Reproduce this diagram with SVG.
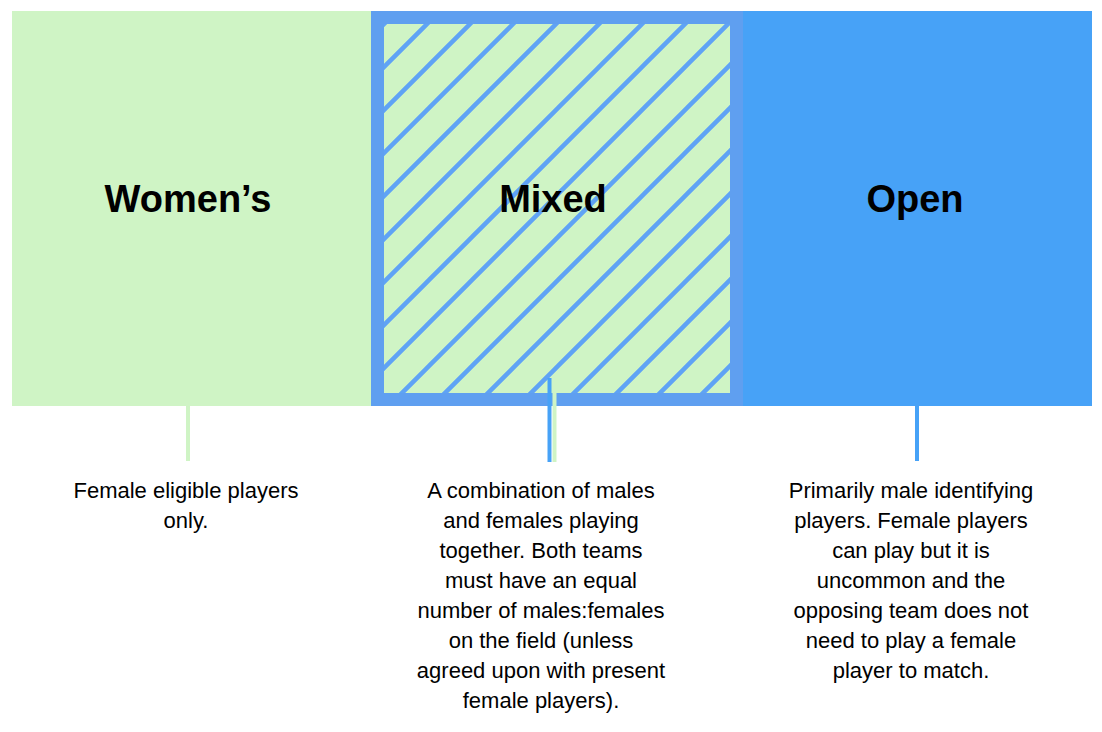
<svg xmlns="http://www.w3.org/2000/svg" width="1102" height="732" viewBox="0 0 1102 732">
<style>
.t{font-family:"Liberation Sans",Arial,sans-serif;font-weight:bold;font-size:38px;text-anchor:middle;fill:#000}
.d{font-family:"Liberation Sans",Arial,sans-serif;font-size:22px;text-anchor:middle;fill:#000}
</style>
<defs>
<pattern id="h" patternUnits="userSpaceOnUse" width="43" height="43" patternTransform="translate(384 24)">
<path d="M-5 48 L48 -5 M-48 48 L5 -5 M38 48 L91 -5" stroke="#5fa3f5" stroke-width="4.5"/>
</pattern>
</defs>
<rect width="1102" height="732" fill="#fff"/>
<g id="womens">
<rect x="12" y="11" width="360" height="395" fill="#cff4c5"/>
<text class="t" x="188" y="212">Women’s</text>
<text class="d" x="186" y="498">Female eligible players</text>
<text class="d" x="186" y="528">only.</text>
</g>
<g id="open">
<rect x="743" y="11" width="349" height="395" fill="#47a2f7"/>
<text class="t" x="915" y="212">Open</text>
<text class="d" x="911" y="498">Primarily male identifying</text>
<text class="d" x="911" y="528">players. Female players</text>
<text class="d" x="911" y="558">can play but it is</text>
<text class="d" x="911" y="588">uncommon and the</text>
<text class="d" x="911" y="618">opposing team does not</text>
<text class="d" x="911" y="648">need to play a female</text>
<text class="d" x="911" y="678">player to match.</text>
</g>
<g id="mixed">
<rect x="377.5" y="17.5" width="359" height="382" fill="#cff4c5" stroke="#5f9ff0" stroke-width="13"/>
<rect x="384" y="24" width="346" height="369" fill="url(#h)"/>
<text class="t" x="553" y="212">Mixed</text>
<text class="d" x="541" y="498">A combination of males</text>
<text class="d" x="541" y="528">and females playing</text>
<text class="d" x="541" y="558">together. Both teams</text>
<text class="d" x="541" y="588">must have an equal</text>
<text class="d" x="541" y="618">number of males:females</text>
<text class="d" x="541" y="648">on the field (unless</text>
<text class="d" x="541" y="678">agreed upon with present</text>
<text class="d" x="541" y="708">female players).</text>
</g>
<g id="connectors">
<line x1="188" y1="350" x2="188" y2="461" stroke="#cff4c5" stroke-width="4"/>
<line x1="549.5" y1="378" x2="549.5" y2="462" stroke="#47a2f7" stroke-width="4"/>
<line x1="554.5" y1="384" x2="554.5" y2="462" stroke="#cff4c5" stroke-width="4"/>
<line x1="917" y1="406" x2="917" y2="461" stroke="#47a2f7" stroke-width="4"/>
</g>
</svg>
